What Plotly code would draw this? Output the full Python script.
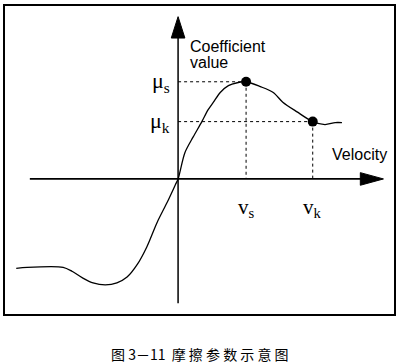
import plotly.graph_objects as go

# Friction curve (velocity vs. coefficient), arbitrary units
velocity = [-2.38, -2.22, -1.69, -1.56, -1.40, -1.25, -1.07, -0.90, -0.75, -0.60,
            -0.46, -0.31, -0.16, -0.04, 0.0, 0.10, 0.22, 0.35, 0.44, 0.52, 0.62,
            0.74, 0.87, 1.0, 1.21, 1.40, 1.54, 1.75, 1.98, 2.16, 2.31, 2.41]
coefficient = [-0.92, -0.91, -0.91, -0.95, -1.02, -1.07, -1.09, -1.07, -1.01, -0.88,
               -0.70, -0.45, -0.24, -0.06, 0.0, 0.27, 0.43, 0.59, 0.71, 0.79, 0.89,
               0.96, 0.99, 1.0, 0.95, 0.89, 0.79, 0.69, 0.59, 0.56, 0.58, 0.58]

v_s, mu_s = 1.0, 1.0
v_k, mu_k = 1.98, 0.59

x_axis_ends = [-2.18, 2.70]
y_axis_ends = [-1.28, 1.46]
x_range = [-2.56, 3.19]
y_range = [-1.40, 1.79]

fig = go.Figure()

# axes lines
fig.add_trace(go.Scatter(x=x_axis_ends, y=[0, 0], mode="lines",
                         line=dict(color="black", width=1.8), hoverinfo="skip"))
fig.add_trace(go.Scatter(x=[0, 0], y=y_axis_ends, mode="lines",
                         line=dict(color="black", width=1.5), hoverinfo="skip"))

# dotted guide lines
for xs, ys in [([0, v_s], [mu_s, mu_s]), ([0, v_k], [mu_k, mu_k]),
               ([v_s, v_s], [mu_s, 0]), ([v_k, v_k], [mu_k, 0])]:
    fig.add_trace(go.Scatter(x=xs, y=ys, mode="lines",
                             line=dict(color="black", width=1, dash="dot"),
                             hoverinfo="skip"))

# curve
fig.add_trace(go.Scatter(x=velocity, y=coefficient, mode="lines",
                         line=dict(color="black", width=1.3, shape="spline", smoothing=0.8),
                         hoverinfo="skip"))

# marked points
fig.add_trace(go.Scatter(x=[v_s, v_k], y=[mu_s, mu_k], mode="markers",
                         marker=dict(color="black", size=10, symbol="circle"),
                         hoverinfo="skip"))

# arrow heads (filled triangles)
fig.add_shape(type="path", path="M 2.68 -0.065 L 3.02 0 L 2.68 0.065 Z",
              fillcolor="black", line=dict(color="black", width=1))
fig.add_shape(type="path", path="M -0.10 1.45 L 0 1.67 L 0.10 1.45 Z",
              fillcolor="black", line=dict(color="black", width=1))

# frame
fig.add_shape(type="rect", xref="paper", yref="paper", x0=0, y0=0, x1=1, y1=1,
              line=dict(color="black", width=2))

serif = "Liberation Serif"
sans = "Liberation Sans"
fig.add_annotation(x=-0.09, y=mu_s, text="μ<sub>s</sub>", showarrow=False,
                   xanchor="right", yanchor="middle", font=dict(family=serif, size=22, color="black"))
fig.add_annotation(x=-0.09, y=mu_k, text="μ<sub>k</sub>", showarrow=False,
                   xanchor="right", yanchor="middle", font=dict(family=serif, size=22, color="black"))
fig.add_annotation(x=v_s, y=-0.14, text="v<sub>s</sub>", showarrow=False,
                   xanchor="center", yanchor="top", font=dict(family=serif, size=21, color="black"))
fig.add_annotation(x=v_k, y=-0.14, text="v<sub>k</sub>", showarrow=False,
                   xanchor="center", yanchor="top", font=dict(family=serif, size=21, color="black"))
fig.add_annotation(x=0.14, y=1.36, text="Coefficient", showarrow=False,
                   xanchor="left", yanchor="middle",
                   font=dict(family=sans, size=16, color="black"))
fig.add_annotation(x=0.14, y=1.20, text="value", showarrow=False,
                   xanchor="left", yanchor="middle",
                   font=dict(family=sans, size=16, color="black"))
fig.add_annotation(x=2.24, y=0.25, text="Velocity", showarrow=False,
                   xanchor="left", yanchor="middle",
                   font=dict(family=sans, size=16, color="black"))

fig.add_annotation(xref="paper", yref="paper", x=0.5, y=-0.125,
                   text="图 3－11  摩 擦 参 数 示 意 图", showarrow=False,
                   xanchor="center", yanchor="middle",
                   font=dict(family="Noto Sans CJK SC", size=14, color="black"))

fig.update_layout(
    width=400, height=364,
    margin=dict(l=4, r=5, t=5, b=49),
    paper_bgcolor="white", plot_bgcolor="white",
    showlegend=False,
    xaxis=dict(range=x_range, visible=False, fixedrange=True),
    yaxis=dict(range=y_range, visible=False, fixedrange=True),
)

fig.write_html("out.html", config={"displayModeBar": False},
               post_script="document.body.style.margin='0';document.body.style.overflow='hidden';")
